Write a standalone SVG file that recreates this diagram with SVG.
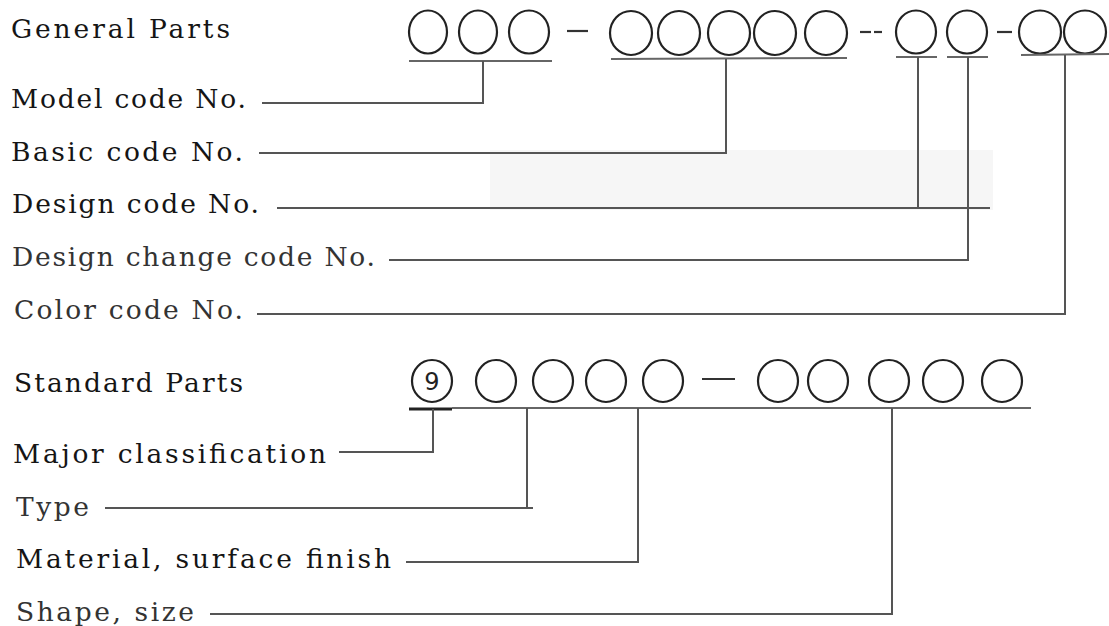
<svg xmlns="http://www.w3.org/2000/svg" width="1109" height="626" viewBox="0 0 1109 626">
<style>
text{font-family:"DejaVu Serif","Liberation Serif",serif;font-size:26.5px;fill:#151515}
.lt{fill:#333}
.c{fill:none;stroke:#222;stroke-width:2.2}
.l{fill:none;stroke:#555;stroke-width:2}
.u{fill:none;stroke:#666;stroke-width:2}
.d{stroke:#333;stroke-width:2.2}
.nine{font-family:"DejaVu Sans","Liberation Sans",sans-serif;font-size:24px;fill:#222}
</style>
<rect x="0" y="0" width="1109" height="626" fill="#fff"/>
<rect x="490" y="150" width="503" height="60" fill="#f6f6f6"/>

<g id="labels">
<text x="11" y="38" textLength="219" lengthAdjust="spacing">General Parts</text>
<text x="11" y="108" textLength="235" lengthAdjust="spacing">Model code No.</text>
<text x="11" y="161" textLength="232" lengthAdjust="spacing">Basic code No.</text>
<text x="12" y="213" textLength="247" lengthAdjust="spacing">Design code No.</text>
<text class="lt" x="12" y="266" textLength="363" lengthAdjust="spacing">Design change code No.</text>
<text class="lt" x="14" y="319" textLength="229" lengthAdjust="spacing">Color code No.</text>
<text x="14" y="392" textLength="229" lengthAdjust="spacing">Standard Parts</text>
<text x="13" y="463" textLength="313" lengthAdjust="spacing">Major classification</text>
<text class="lt" x="16" y="516" textLength="73" lengthAdjust="spacing">Type</text>
<text x="16" y="568" textLength="375" lengthAdjust="spacing">Material, surface finish</text>
<text class="lt" x="16" y="621" textLength="178" lengthAdjust="spacing">Shape, size</text>
</g>

<g id="general-code">
<ellipse class="c" cx="428" cy="32" rx="19" ry="21.5"/>
<ellipse class="c" cx="478" cy="32" rx="19" ry="21.5"/>
<ellipse class="c" cx="529" cy="32" rx="20" ry="21.5"/>
<line class="d" x1="567" y1="31" x2="588" y2="31"/>
<ellipse class="c" cx="631" cy="33" rx="21" ry="22"/>
<ellipse class="c" cx="679" cy="33" rx="21" ry="22"/>
<ellipse class="c" cx="729" cy="33" rx="21" ry="22"/>
<ellipse class="c" cx="775" cy="33" rx="21" ry="22"/>
<ellipse class="c" cx="826" cy="33" rx="21" ry="22"/>
<line class="d" x1="860" y1="32" x2="871" y2="32"/>
<line class="d" x1="874" y1="32" x2="882" y2="32"/>
<ellipse class="c" cx="916" cy="32" rx="20" ry="21.5"/>
<ellipse class="c" cx="967" cy="32" rx="20" ry="21.5"/>
<line class="d" x1="997" y1="32" x2="1012" y2="32"/>
<ellipse class="c" cx="1040" cy="32" rx="21" ry="21.5"/>
<ellipse class="c" cx="1085" cy="32" rx="21" ry="21.5"/>
</g>

<g id="standard-code">
<ellipse class="c" cx="432" cy="381" rx="20" ry="21"/>
<text class="nine" x="432" y="390" text-anchor="middle">9</text>
<ellipse class="c" cx="496" cy="381" rx="20" ry="21"/>
<ellipse class="c" cx="553" cy="381" rx="20" ry="21"/>
<ellipse class="c" cx="606" cy="381" rx="20" ry="21"/>
<ellipse class="c" cx="663" cy="381" rx="20" ry="21"/>
<line class="d" x1="702" y1="379" x2="735" y2="379"/>
<ellipse class="c" cx="778" cy="381" rx="20" ry="21"/>
<ellipse class="c" cx="828" cy="381" rx="20" ry="21"/>
<ellipse class="c" cx="889" cy="381" rx="20" ry="21"/>
<ellipse class="c" cx="943" cy="381" rx="20" ry="21"/>
<ellipse class="c" cx="1002" cy="381" rx="20" ry="21"/>
</g>

<g id="connectors">
<line class="u" x1="409" y1="61" x2="552" y2="61"/>
<line class="u" x1="611" y1="59" x2="847" y2="58"/>
<line class="u" x1="896" y1="57" x2="937" y2="57"/>
<line class="u" x1="947" y1="57" x2="988" y2="57"/>
<line class="u" x1="1021" y1="55" x2="1109" y2="54"/>
<polyline class="l" points="262,103 483,103 483,61"/>
<polyline class="l" points="259,153 726,153 726,59"/>
<polyline class="l" points="277,208 990,208"/>
<line class="l" x1="918" y1="57" x2="918" y2="208"/>
<polyline class="l" points="389,260 968,260 968,57"/>
<polyline class="l" points="257,314 1065,314 1065,55"/>

<line stroke="#222" stroke-width="3" x1="409" y1="409" x2="452" y2="409"/>
<line class="u" x1="452" y1="408" x2="1031" y2="408"/>
<polyline class="l" points="339,452 433,452 433,409"/>
<polyline class="l" points="105,508 533,508"/>
<line class="l" x1="527" y1="408" x2="527" y2="508"/>
<polyline class="l" points="406,562 638,562 638,408"/>
<polyline class="l" points="210,614 892,614 892,408"/>
</g>
</svg>
